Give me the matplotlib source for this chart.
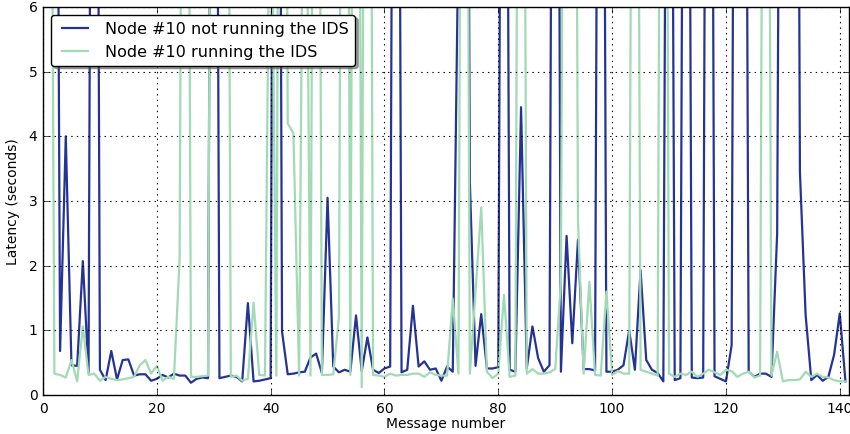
import numpy as np
import matplotlib
matplotlib.use('Agg')
import matplotlib.pyplot as plt

# Latency per message for node #10 (values above 6 s run off the top of the plot)
msg_numbers = list(range(1, 142))

latency_no_ids = [
    21.3, 19.8, 0.68, 4.00, 0.46, 0.45, 2.07, 0.35, 24.1, 0.39,
    0.23, 0.68, 0.24, 0.54, 0.55, 0.30, 0.32, 0.32, 0.22, 0.25,
    0.31, 0.27, 0.33, 0.30, 0.30, 0.19, 0.25, 0.27, 0.26, 22.7,
    0.26, 0.28, 0.30, 0.28, 0.21, 1.42, 0.21, 0.22, 0.24, 0.26,
    25.4, 0.98, 0.32, 0.33, 0.35, 0.36, 0.58, 0.64, 0.34, 3.05,
    0.44, 0.35, 0.39, 0.36, 1.23, 0.37, 0.89, 0.39, 0.34, 0.41,
    0.44, 23.6, 0.35, 0.39, 1.38, 0.44, 0.52, 0.39, 0.41, 0.22,
    0.44, 0.36, 7.2, 24.8, 3.30, 0.45, 1.25, 0.41, 0.41, 0.43,
    21.9, 0.39, 0.36, 4.45, 0.41, 1.06, 0.57, 0.36, 0.46, 23.2,
    0.36, 2.46, 0.80, 2.40, 0.40, 0.40, 0.38, 22.4, 0.36, 0.36,
    0.39, 0.46, 1.00, 0.39, 1.93, 0.54, 0.39, 0.34, 0.21, 20.6,
    0.23, 0.26, 21.8, 0.27, 0.26, 0.27, 23.9, 0.29, 0.25, 0.21,
    0.77, 24.3, 22.1, 0.36, 0.28, 0.33, 0.33, 0.28, 2.50, 20.9,
    23.5, 25.7, 3.45, 1.24, 0.23, 0.31, 0.22, 0.28, 0.62, 1.26,
    0.21,
]

latency_ids = [
    18.2, 0.33, 0.31, 0.27, 0.54, 0.21, 1.06, 0.31, 0.33, 0.22,
    0.28, 0.25, 0.23, 0.24, 0.26, 0.28, 0.46, 0.54, 0.33, 0.45,
    0.22, 0.28, 0.25, 2.10, 22.5, 0.28, 0.28, 0.29, 0.30, 21.4,
    24.6, 23.0, 0.28, 0.30, 0.22, 0.25, 1.43, 0.31, 0.30, 9.8,
    0.30, 24.2, 4.20, 4.05, 0.30, 12.0, 0.30, 21.7, 0.31, 0.31,
    0.32, 1.20, 23.8, 0.31, 22.6, 0.12, 24.9, 0.31, 0.30, 0.28,
    0.33, 0.30, 0.31, 0.31, 0.33, 0.33, 0.28, 0.35, 0.31, 0.30,
    0.30, 1.49, 0.33, 22.8, 0.33, 1.60, 2.90, 0.36, 0.26, 0.33,
    1.55, 0.28, 0.30, 23.1, 0.33, 0.40, 0.33, 0.33, 0.35, 0.40,
    1.75, 21.2, 24.4, 2.70, 0.33, 1.75, 0.31, 0.30, 1.60, 0.31,
    0.37, 0.33, 0.33, 22.3, 0.39, 0.36, 0.33, 0.30, 23.7, 0.33,
    0.28, 0.33, 0.31, 0.36, 0.28, 0.33, 0.39, 0.35, 0.31, 0.39,
    0.37, 0.28, 0.33, 0.36, 0.27, 0.30, 21.5, 0.30, 0.67, 0.21,
    0.23, 0.23, 0.24, 0.36, 0.28, 0.33, 0.28, 0.27, 0.23, 0.21,
    0.21,
]

labels = ['Node #10 not running the IDS', 'Node #10 running the IDS']
colors = ['#253494', '#a1dab4']

plt.style.use('classic')
plt.rcParams['font.family'] = ['DejaVu Sans']

fig = plt.figure(figsize=(8.5, 4.35), dpi=100, facecolor='white')
ax = fig.add_axes([0.0506, 0.0897, 0.9484, 0.8919])

ax.plot(msg_numbers, latency_no_ids, color=colors[0], lw=1.6, label=labels[0])
ax.plot(msg_numbers, latency_ids, color=colors[1], lw=1.6, label=labels[1])

ax.set_xlim(0, 141.65)
ax.set_ylim(0, 6)
ax.set_xticks(np.arange(0, 141, 20))
ax.set_yticks(np.arange(0, 7, 1))
ax.tick_params(labelsize=10)
ax.grid(True, color='k', linestyle=':', linewidth=0.8)

ax.set_xlabel('Message number', fontsize=10, labelpad=1)
ax.set_ylabel('Latency (seconds)', fontsize=10, labelpad=6)

ax.legend(loc='upper left', fontsize=11.5, fancybox=True, shadow=True,
          handlelength=2.2, borderaxespad=0.5)

fig.savefig('out.png', dpi=100, facecolor='white')
